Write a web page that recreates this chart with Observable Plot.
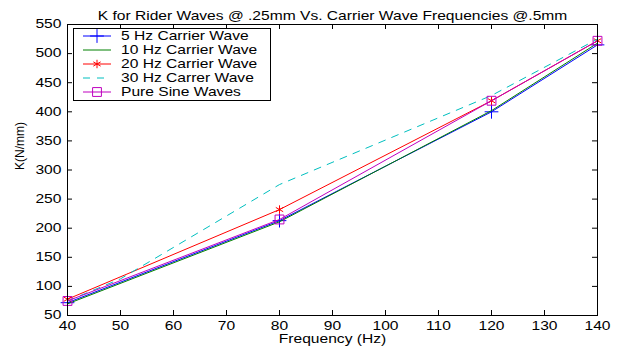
<!DOCTYPE html>
<html><head><meta charset="utf-8">
<script src="https://cdn.jsdelivr.net/npm/d3@7"></script>
<script src="https://cdn.jsdelivr.net/npm/@observablehq/plot@0.6"></script>
<style>
body{margin:0;background:#fff;}
#chart{position:relative;width:623px;height:352px;}
</style>
</head><body><div id="chart"></div>
<script>
// ---- data ----
const freqs = [40, 80, 120, 140];
const hz5 = [72, 213, 400, 515];
const hz10 = [70, 211, 402, 518];
const hz20 = [78, 232, 419, 522];
const pureSine = [75, 215, 419, 522];
const hz30Freqs = [40, 50, 80, 120, 140];
const hz30 = [75, 113, 275, 428, 525];
const seriesNames = ["5 Hz Carrier Wave", "10 Hz Carrier Wave", "20 Hz Carrier Wave", "30 Hz Carrer Wave", "Pure Sine Waves"];
const xTicks = [40, 50, 60, 70, 80, 90, 100, 110, 120, 130, 140];
const yTicks = [50, 100, 150, 200, 250, 300, 350, 400, 450, 500, 550];
const title = "K for Rider Waves @ .25mm Vs. Carrier Wave Frequencies @.5mm";
const xLabel = "Frequency (Hz)";
const yLabel = "K(N/mm)";

// ---- styles ----
const colors = ["#0000ff", "#008000", "#ff0000", "#00bfbf", "#bf00bf"];
const W = 623, H = 352, mL = 67, mR = 26, mT = 24, mB = 37;
const font = "'Liberation Sans', Arial, sans-serif";
const stretchX = 1.3;

const toRows = (xs, ys) => xs.map((x, i) => ({x, y: ys[i]}));
const s5 = toRows(freqs, hz5), s10 = toRows(freqs, hz10), s20 = toRows(freqs, hz20);
const sPure = toRows(freqs, pureSine), s30 = toRows(hz30Freqs, hz30);

const xDom = [xTicks[0], xTicks[xTicks.length - 1]];
const yDom = [yTicks[0], yTicks[yTicks.length - 1]];
const tickPx = 5;
const tY = tickPx * (yDom[1] - yDom[0]) / (H - mT - mB);
const tX = tickPx * (xDom[1] - xDom[0]) / (W - mL - mR);

const chart = Plot.plot({
  width: W, height: H,
  marginLeft: mL, marginRight: mR, marginTop: mT, marginBottom: mB,
  style: {fontFamily: font, fontSize: "12px", background: "#fff", color: "#000"},
  x: {domain: xDom},
  y: {domain: yDom},
  marks: [
    Plot.ruleX(xTicks, {x: d => d, y1: yDom[0], y2: yDom[0] + tY, stroke: "#000"}),
    Plot.ruleX(xTicks, {x: d => d, y1: yDom[1], y2: yDom[1] - tY, stroke: "#000"}),
    Plot.ruleY(yTicks, {y: d => d, x1: xDom[0], x2: xDom[0] + tX, stroke: "#000"}),
    Plot.ruleY(yTicks, {y: d => d, x1: xDom[1], x2: xDom[1] - tX, stroke: "#000"}),
    Plot.axisX(xTicks, {tickSize: 0, tickPadding: 6, label: null, fontSize: 12}),
    Plot.axisY(yTicks, {tickSize: 0, tickPadding: 6, label: null, fontSize: 12}),
    Plot.line(s5, {x: "x", y: "y", stroke: colors[0], strokeWidth: 1}),
    Plot.dot(s5, {x: "x", y: "y", stroke: colors[0], symbol: "plus", r: 4.5, strokeWidth: 1}),
    Plot.line(s10, {x: "x", y: "y", stroke: colors[1], strokeWidth: 1}),
    Plot.line(s20, {x: "x", y: "y", stroke: colors[2], strokeWidth: 1}),
    Plot.dot(s20, {x: "x", y: "y", stroke: colors[2], symbol: "asterisk", r: 4, strokeWidth: 1}),
    Plot.line(s30, {x: "x", y: "y", stroke: colors[3], strokeWidth: 1, strokeDasharray: "7,7"}),
    Plot.line(sPure, {x: "x", y: "y", stroke: colors[4], strokeWidth: 1}),
    Plot.dot(sPure, {x: "x", y: "y", stroke: colors[4], fill: "none", symbol: "square", r: 5, strokeWidth: 1}),
    Plot.frame({stroke: "#000", strokeWidth: 1}),
    Plot.text([title], {text: d => d, frameAnchor: "top", dy: -13, fontSize: 12}),
    Plot.text([xLabel], {text: d => d, frameAnchor: "bottom", dy: 27, fontSize: 12}),
    Plot.text([yLabel], {text: d => d, frameAnchor: "left", dx: -47, rotate: -90, fontSize: 12})
  ]
});
document.getElementById("chart").appendChild(chart);

// ---- legend ----
const svg = d3.select(chart);
const lg = svg.append("g").attr("font-family", font).attr("font-size", 12).attr("text-anchor", "start");
const lx = 73, ly = 28, lw = 197, lh = 72, rowH = 14;
lg.append("rect").attr("x", lx + 0.5).attr("y", ly + 0.5).attr("width", lw).attr("height", lh)
  .attr("fill", "#fff").attr("stroke", "#000");
const symbols = [d3.symbolPlus, null, d3.symbolAsterisk, null, d3.symbolSquare];
const symSize = [64, 0, 50, 0, 78];
seriesNames.forEach((name, i) => {
  const y = ly + 8 + i * rowH;
  lg.append("line").attr("x1", lx + 10).attr("x2", lx + 38).attr("y1", y).attr("y2", y)
    .attr("stroke", colors[i]).attr("stroke-width", 1)
    .attr("stroke-dasharray", i === 3 ? "7,7" : null);
  if (symbols[i]) {
    lg.append("path").attr("d", d3.symbol(symbols[i], symSize[i])())
      .attr("transform", `translate(${lx + 24},${y})`)
      .attr("fill", "none").attr("stroke", colors[i]);
  }
  lg.append("text").attr("x", lx + 48).attr("y", y).attr("dy", "0.35em").text(name);
});

// ---- horizontal text stretch (the reference's lettering is wide) ----
svg.selectAll("text").each(function() {
  if (this.textContent === yLabel) return;
  const bb = this.getBBox();
  const anchor = getComputedStyle(this).textAnchor;
  const ax = anchor === "end" ? bb.x + bb.width : anchor === "middle" ? bb.x + bb.width / 2 : bb.x;
  const t = this.getAttribute("transform") || "";
  this.setAttribute("transform", `${t} translate(${ax},0) scale(${stretchX},1) translate(${-ax},0)`);
});
</script>
</body></html>
